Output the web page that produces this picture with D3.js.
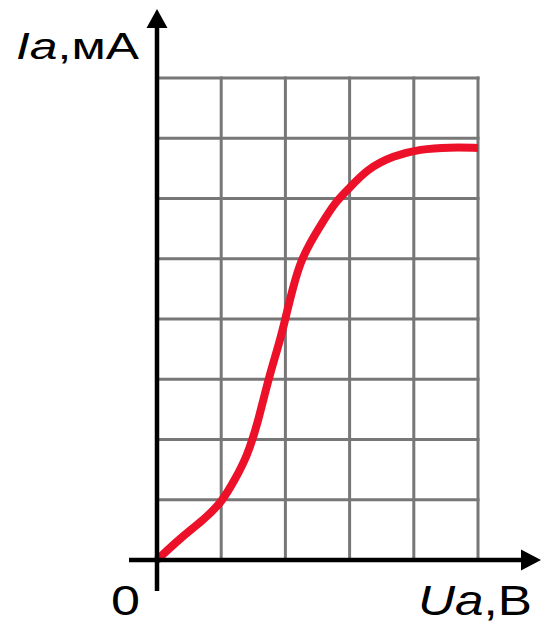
<!DOCTYPE html>
<html>
<head>
<meta charset="utf-8">
<script src="https://cdn.jsdelivr.net/npm/d3@7"></script>
<style>
body { margin: 0; background: #fff; }
svg { display: block; }
text { font-family: "Liberation Sans", Arial, sans-serif; fill: #000; }
</style>
</head>
<body>
<svg id="chart" width="543" height="625"></svg>
<script>
// grid divisions (no numeric labels in the picture besides the origin)
var xTicks = [0, 1, 2, 3, 4, 5];
var yTicks = [0, 1, 2, 3, 4, 5, 6, 7, 8];

// anode characteristic (grid units)
var curveU = [0, 0.38, 0.72, 1.01, 1.21, 1.40, 1.57, 1.73, 1.92, 2.02, 2.12, 2.23, 2.38, 2.57, 2.77, 2.96, 3.27, 3.68, 4.10, 4.56, 5.00];
var curveI = [0, 0.38, 0.66, 0.96, 1.33, 1.71, 2.27, 2.99, 3.65, 4.10, 4.53, 4.93, 5.26, 5.59, 5.93, 6.13, 6.49, 6.71, 6.82, 6.85, 6.84];

var svg = d3.select("#chart");

var x = d3.scaleLinear().domain([0, 5]).range([157, 478]);
var y = d3.scaleLinear().domain([0, 8]).range([560, 78]);

//Grid
var grid = svg.append("g")
    .attr("stroke", "#777")
    .attr("stroke-width", 3);
grid.selectAll(".v")
    .data(xTicks.slice(1))
    .enter().append("line")
    .attr("x1", function(d){return x(d);})
    .attr("x2", function(d){return x(d);})
    .attr("y1", y(0))
    .attr("y2", y(8) - 1.5);
grid.selectAll(".h")
    .data(yTicks.slice(1))
    .enter().append("line")
    .attr("x1", x(0))
    .attr("x2", x(5) + 1.5)
    .attr("y1", function(d){return y(d);})
    .attr("y2", function(d){return y(d);});

//Curve (B-spline through the read points to smooth out reading noise)
var pts = curveU.map(function(u, i){return [u, curveI[i]];});
svg.append("path")
    .datum(pts)
    .attr("fill", "none")
    .attr("stroke", "#ec1029")
    .attr("stroke-width", 8)
    .attr("stroke-linejoin", "round")
    .attr("d", d3.line()
        .curve(d3.curveBasis)
        .x(function(d){return x(d[0]);})
        .y(function(d){return y(d[1]);}));

//Axes with arrows
var ax = svg.append("g").attr("stroke", "#000").attr("stroke-width", 4.5);
ax.append("line")
    .attr("x1", x(0)).attr("x2", x(0))
    .attr("y1", 591).attr("y2", 24);
ax.append("line")
    .attr("x1", 129).attr("x2", 525)
    .attr("y1", y(0)).attr("y2", y(0));
svg.append("path")
    .attr("d", "M" + x(0) + ",9 L" + (x(0) + 10.5) + ",28 L" + (x(0) - 10.5) + ",28 Z")
    .attr("fill", "#000");
svg.append("path")
    .attr("d", "M541," + y(0) + " L521," + (y(0) - 10.5) + " L521," + (y(0) + 10.5) + " Z")
    .attr("fill", "#000");

//Labels (the original lettering is stretched sideways)
var yl = svg.append("text")
    .attr("x", 16)
    .attr("y", 59)
    .attr("textLength", 123)
    .attr("lengthAdjust", "spacingAndGlyphs")
    .style("font-size", "36px");
yl.append("tspan").style("font-style", "italic").text("Ia");
yl.append("tspan").text(",мA");

var xl = svg.append("text")
    .attr("x", 418)
    .attr("y", 615)
    .attr("textLength", 114)
    .attr("lengthAdjust", "spacingAndGlyphs")
    .style("font-size", "42px");
xl.append("tspan").style("font-style", "italic").text("Ua");
xl.append("tspan").text(",B");

svg.append("text")
    .attr("x", 111)
    .attr("y", 615)
    .attr("textLength", 29)
    .attr("lengthAdjust", "spacingAndGlyphs")
    .style("font-size", "42px")
    .text("0");
</script>
</body>
</html>
